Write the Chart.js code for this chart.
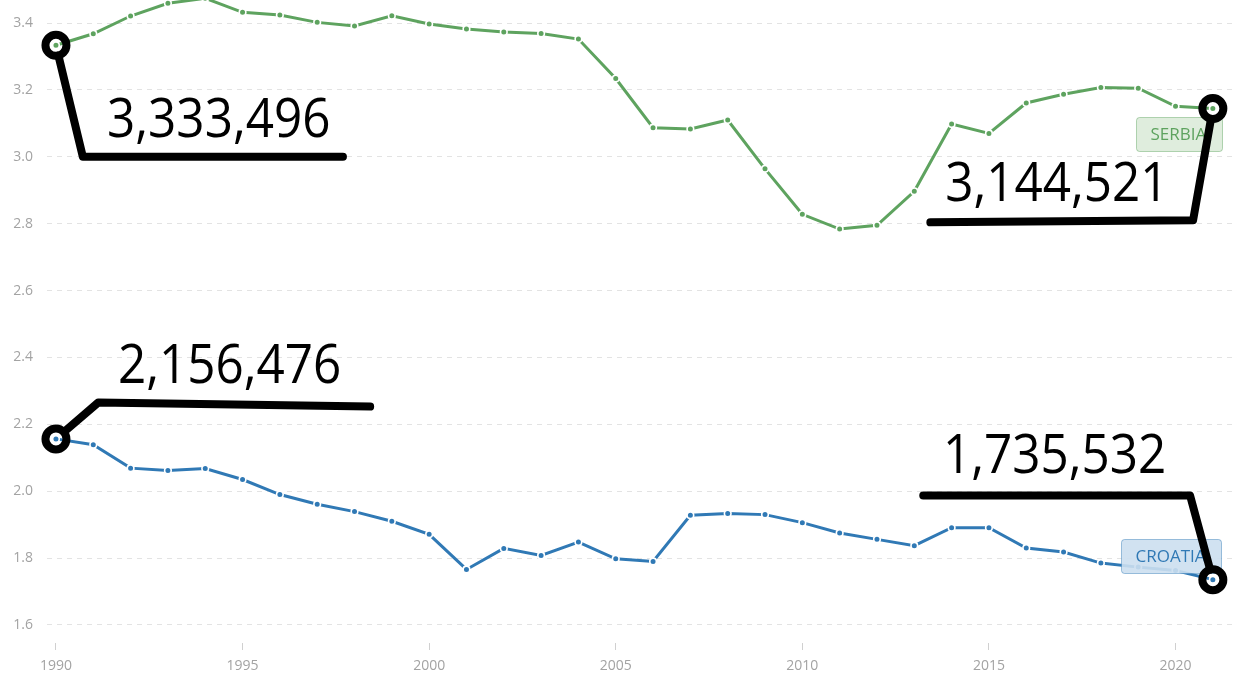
<!DOCTYPE html>
<html>
<head>
<meta charset="utf-8">
<script src="https://cdn.jsdelivr.net/npm/chart.js@4/dist/chart.umd.min.js"></script>
<style>
  html, body { margin: 0; padding: 0; background: #ffffff; overflow: hidden; }
  #wrap { width: 1233px; height: 690px; }
</style>
</head>
<body>
<div id="wrap"><canvas id="c" width="1233" height="690"></canvas></div>
<script>
// ---------- data ----------
const years = [1990,1991,1992,1993,1994,1995,1996,1997,1998,1999,2000,2001,2002,2003,2004,2005,
               2006,2007,2008,2009,2010,2011,2012,2013,2014,2015,2016,2017,2018,2019,2020,2021];
// population, millions
const serbiaValues = [3.333496,3.368,3.421,3.459,3.474,3.432,3.424,3.402,3.391,3.422,3.397,3.382,3.373,3.369,3.352,3.234,
                      3.087,3.083,3.110,2.964,2.828,2.784,2.795,2.897,3.098,3.070,3.161,3.187,3.207,3.205,3.151,3.144521];
const croatiaValues = [2.156476,2.139,2.069,2.062,2.068,2.035,1.990,1.961,1.939,1.910,1.871,1.766,1.829,1.808,1.848,1.798,
                       1.790,1.928,1.933,1.930,1.906,1.875,1.856,1.837,1.891,1.891,1.830,1.818,1.785,1.773,1.763,1.735532];
const seriesNames = ['SERBIA', 'CROATIA'];
const xTickYears = [1990, 1995, 2000, 2005, 2010, 2015, 2020];
const yTickValues = [1.6, 1.8, 2.0, 2.2, 2.4, 2.6, 2.8, 3.0, 3.2, 3.4];
const calloutTexts = ['3,333,496', '3,144,521', '2,156,476', '1,735,532'];

// ---------- styles / layout ----------
const GREEN = '#5ea35f';
const BLUE = '#3079b5';
const FONT = '"Open Sans", "Noto Sans", sans-serif';

const endLabels = [
  { text: seriesNames[0], color: GREEN, fill: 'rgba(219,235,217,0.9)', stroke: 'rgba(94,163,95,0.45)', rightYear: 2021.24, centerValue: 3.069 },
  { text: seriesNames[1], color: BLUE,  fill: 'rgba(204,223,240,0.9)', stroke: 'rgba(48,121,181,0.45)', rightYear: 2021.22, centerValue: 1.806 }
];

const callouts = [
  { text: calloutTexts[0], year: years[0], value: serbiaValues[0],
    path: [[1990.72, 3.0], [1997.69, 3.0]], textAt: [1991.37, 3.059] },
  { text: calloutTexts[1], year: years[years.length-1], value: serbiaValues[serbiaValues.length-1],
    path: [[2020.47, 2.810], [2013.43, 2.804]], textAt: [2013.83, 2.867] },
  { text: calloutTexts[2], year: years[0], value: croatiaValues[0],
    path: [[1991.13, 2.265], [1998.42, 2.253]], textAt: [1991.66, 2.325] },
  { text: calloutTexts[3], year: years[years.length-1], value: croatiaValues[croatiaValues.length-1],
    path: [[2020.39, 1.987], [2013.24, 1.987]], textAt: [2013.77, 2.053] }
];

const calloutPlugin = {
  id: 'callouts',
  afterDatasetsDraw(chart) {
    const { ctx, scales: { x, y } } = chart;
    // end labels (boxes)
    endLabels.forEach(l => {
      ctx.save();
      ctx.font = '17px ' + FONT;
      const tw = ctx.measureText(l.text).width;
      const w = Math.round(tw + 30), h = 34;
      const right = x.getPixelForValue(l.rightYear);
      const cy = y.getPixelForValue(l.centerValue);
      const left = Math.round(right - w) + 0.5, top = Math.round(cy - h / 2) + 0.5;
      ctx.beginPath();
      ctx.roundRect(left, top, w, h, 3);
      ctx.fillStyle = l.fill;
      ctx.fill();
      ctx.strokeStyle = l.stroke;
      ctx.lineWidth = 1;
      ctx.stroke();
      ctx.fillStyle = l.color;
      ctx.textBaseline = 'middle';
      ctx.textAlign = 'left';
      ctx.fillText(l.text, left + 14, cy + 1);
      ctx.restore();
    });
    // black callouts
    callouts.forEach(c => {
      const px = x.getPixelForValue(c.year), py = y.getPixelForValue(c.value);
      const pts = c.path.map(p => [x.getPixelForValue(p[0]), y.getPixelForValue(p[1])]);
      const r = 10.5;
      const dx = pts[0][0] - px, dy = pts[0][1] - py, d = Math.hypot(dx, dy);
      ctx.save();
      ctx.strokeStyle = '#000';
      ctx.lineCap = 'round';
      ctx.lineJoin = 'round';
      ctx.lineWidth = 8;
      ctx.beginPath();
      ctx.moveTo(px + dx / d * r, py + dy / d * r);
      pts.forEach(p => ctx.lineTo(p[0], p[1]));
      ctx.stroke();
      ctx.beginPath();
      ctx.arc(px, py, r, 0, Math.PI * 2);
      ctx.stroke();
      ctx.font = '54px ' + FONT;
      ctx.fillStyle = '#000';
      ctx.textBaseline = 'alphabetic';
      ctx.textAlign = 'left';
      ctx.translate(x.getPixelForValue(c.textAt[0]), y.getPixelForValue(c.textAt[1]));
      ctx.scale(0.915, 1);
      ctx.fillText(c.text, 0, 0);
      ctx.restore();
    });
  }
};

const toPoints = vals => years.map((yr, i) => ({ x: yr, y: vals[i] }));
const noPad = s => { s.paddingTop = 0; s.paddingBottom = 0; s.paddingLeft = 0; s.paddingRight = 0; };

new Chart(document.getElementById('c'), {
  type: 'line',
  data: {
    datasets: [
      { label: seriesNames[0], data: toPoints(serbiaValues), borderColor: GREEN, backgroundColor: GREEN,
        borderWidth: 3, pointRadius: 3.3, pointHoverRadius: 3.3, pointBackgroundColor: GREEN, pointBorderColor: '#ffffff',
        pointBorderWidth: 1.6, tension: 0, fill: false },
      { label: seriesNames[1], data: toPoints(croatiaValues), borderColor: BLUE, backgroundColor: BLUE,
        borderWidth: 3, pointRadius: 3.3, pointHoverRadius: 3.3, pointBackgroundColor: BLUE, pointBorderColor: '#ffffff',
        pointBorderWidth: 1.6, tension: 0, fill: false }
    ]
  },
  options: {
    responsive: false,
    animation: false,
    events: [],
    layout: { padding: 0, autoPadding: false },
    plugins: { legend: { display: false }, tooltip: { enabled: false } },
    scales: {
      x: {
        type: 'linear',
        min: 1989.76,
        max: 2021.54,
        afterBuildTicks: s => { s.ticks = xTickYears.map(v => ({ value: v })); },
        afterFit: s => { s.height = 47; noPad(s); },
        ticks: { color: '#a3a3a3', font: { family: FONT, size: 14 }, padding: 8,
                 callback: v => String(v), maxRotation: 0, autoSkip: false },
        grid: { drawOnChartArea: false, drawTicks: true, tickLength: 7, color: '#d0d0d0', lineWidth: 1 },
        border: { display: false }
      },
      y: {
        type: 'linear',
        min: 1.5461,
        max: 3.4689,
        afterBuildTicks: s => { s.ticks = yTickValues.map(v => ({ value: v })); },
        afterFit: s => { s.width = 47; noPad(s); },
        ticks: { color: '#a3a3a3', font: { family: FONT, size: 14 }, padding: 14,
                 callback: v => Number(v).toFixed(1) },
        grid: { drawTicks: false, color: '#e3e3e3', lineWidth: 1 },
        border: { display: false, dash: [5, 5] }
      }
    }
  },
  plugins: [calloutPlugin]
});
</script>
</body>
</html>
